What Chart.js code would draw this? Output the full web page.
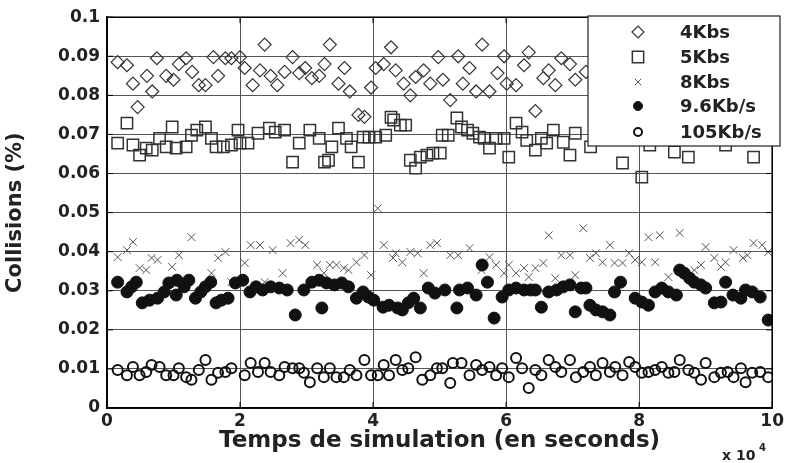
<!DOCTYPE html>
<html>
<head>
<meta charset="utf-8">
<script src="https://cdn.jsdelivr.net/npm/chart.js@4.4.1/dist/chart.umd.min.js"></script>
<style>
  html, body { margin: 0; padding: 0; background: #fff; }
  #wrap { width: 787px; height: 463px; }
</style>
</head>
<body>
<div id="wrap"><canvas id="chart" width="787" height="463"></canvas></div>
<script>
// Séries (x en unités de 10^4 s, y en %)
const labels = ["4Kbs", "5Kbs", "8Kbs", "9.6Kb/s", "105Kb/s"];
const xTicks = [0, 2, 4, 6, 8, 10];

const x4k = [0.16, 0.3, 0.39, 0.46, 0.6, 0.68, 0.75, 0.89, 1.0, 1.08, 1.19, 1.28, 1.38, 1.48, 1.6, 1.67, 1.78, 1.87, 2.0, 2.07,
  2.19, 2.3, 2.37, 2.46, 2.56, 2.67, 2.79, 2.89, 2.98, 3.08, 3.19, 3.27, 3.35, 3.48, 3.57, 3.65, 3.78, 3.87, 3.97, 4.04,
  4.16, 4.27, 4.34, 4.46, 4.56, 4.64, 4.76, 4.86, 4.98, 5.05, 5.16, 5.28, 5.35, 5.45, 5.55, 5.64, 5.75, 5.87, 5.97, 6.01,
  6.15, 6.27, 6.34, 6.44, 6.56, 6.64, 6.74, 6.83, 6.96, 7.04, 7.2, 7.35, 7.5, 7.65, 7.8, 7.95, 8.1, 8.25, 8.4, 8.55,
  8.7, 8.85, 9.0, 9.15, 9.3, 9.45, 9.6, 9.75, 9.9, 10.0];
const y4k = [0.0885, 0.0877, 0.083, 0.077, 0.085, 0.081, 0.0895, 0.085, 0.084, 0.088, 0.0895, 0.086, 0.0826, 0.0826, 0.0898, 0.085, 0.0895, 0.0895, 0.0898, 0.087,
  0.0826, 0.0864, 0.093, 0.085, 0.0826, 0.086, 0.0898, 0.0857, 0.087, 0.0844, 0.085, 0.088, 0.093, 0.083, 0.087, 0.081, 0.075, 0.0745, 0.082, 0.087,
  0.088, 0.0923, 0.0864, 0.083, 0.080, 0.0847, 0.0864, 0.083, 0.0898, 0.084, 0.0788, 0.090, 0.083, 0.087, 0.081, 0.093, 0.081, 0.0857, 0.090, 0.083,
  0.0826, 0.0877, 0.091, 0.076, 0.0844, 0.0864, 0.0826, 0.0895, 0.088, 0.084, 0.086, 0.083, 0.088, 0.085, 0.082, 0.087, 0.089, 0.084, 0.086, 0.083,
  0.088, 0.085, 0.082, 0.087, 0.089, 0.084, 0.086, 0.083, 0.088, 0.0865];

const x5k = [0.16, 0.3, 0.39, 0.49, 0.59, 0.68, 0.79, 0.89, 0.98, 1.04, 1.19, 1.27, 1.35, 1.48, 1.57, 1.64, 1.75, 1.87, 1.97, 2.0,
  2.12, 2.27, 2.44, 2.53, 2.67, 2.79, 2.89, 3.05, 3.19, 3.27, 3.33, 3.38, 3.48, 3.6, 3.67, 3.78, 3.85, 3.94, 4.04, 4.19,
  4.27, 4.31, 4.41, 4.49, 4.56, 4.64, 4.71, 4.81, 4.9, 5.01, 5.04, 5.13, 5.26, 5.33, 5.42, 5.5, 5.6, 5.67, 5.75, 5.85,
  5.97, 6.04, 6.15, 6.24, 6.31, 6.44, 6.53, 6.61, 6.71, 6.86, 6.96, 7.04, 7.27, 7.45, 7.6, 7.75, 7.9, 8.04, 8.16, 8.35,
  8.53, 8.74, 8.9, 9.1, 9.3, 9.5, 9.72, 9.85, 10.0];
const y5k = [0.0678, 0.0729, 0.0673, 0.0647, 0.0665, 0.066, 0.069, 0.0668, 0.0719, 0.0665, 0.0668, 0.0698, 0.0711, 0.0719, 0.069, 0.0668, 0.0668, 0.0673, 0.0711, 0.0678,
  0.0678, 0.0703, 0.0716, 0.0706, 0.0711, 0.0629, 0.0678, 0.0711, 0.069, 0.0629, 0.0634, 0.0668, 0.0716, 0.069, 0.0668, 0.0629, 0.0693, 0.0693, 0.0693, 0.0698,
  0.0744, 0.0737, 0.0724, 0.0724, 0.0634, 0.0614, 0.0642, 0.0647, 0.0652, 0.0652, 0.0698, 0.0698, 0.0742, 0.0719, 0.0711, 0.0703, 0.0693, 0.069, 0.0665, 0.069,
  0.069, 0.0642, 0.0729, 0.0706, 0.0685, 0.066, 0.069, 0.0678, 0.0711, 0.068, 0.0647, 0.0703, 0.0668, 0.0705, 0.0695, 0.0627, 0.0712, 0.0591, 0.0673, 0.0705,
  0.0655, 0.0642, 0.0698, 0.0712, 0.0673, 0.0702, 0.0642, 0.0695, 0.069];

const x8k = [0.16, 0.3, 0.39, 0.49, 0.59, 0.67, 0.76, 0.98, 1.08, 1.27, 1.57, 1.67, 1.78, 1.87, 2.07, 2.16, 2.3, 2.37, 2.49, 2.64,
  2.76, 2.89, 2.98, 3.16, 3.26, 3.35, 3.45, 3.56, 3.63, 3.75, 3.87, 3.97, 4.07, 4.16, 4.3, 4.34, 4.44, 4.56, 4.67, 4.76,
  4.86, 4.96, 5.16, 5.28, 5.45, 5.63, 5.75, 5.85, 5.97, 6.04, 6.15, 6.27, 6.34, 6.44, 6.56, 6.64, 6.74, 6.83, 6.96, 7.04,
  7.16, 7.26, 7.35, 7.45, 7.56, 7.63, 7.75, 7.85, 7.94, 8.04, 8.14, 8.24, 8.31, 8.44, 8.61, 8.83, 8.93, 9.0, 9.13, 9.23,
  9.3, 9.42, 9.56, 9.63, 9.72, 9.85, 9.94];
const y8k = [0.0386, 0.0404, 0.0425, 0.0358, 0.0353, 0.0384, 0.0379, 0.0361, 0.0391, 0.0437, 0.0345, 0.0384, 0.0399, 0.0322, 0.0371, 0.0417, 0.0417, 0.0322, 0.0404, 0.0345,
  0.0422, 0.043, 0.0417, 0.0366, 0.0345, 0.0366, 0.0366, 0.0358, 0.0353, 0.0373, 0.0391, 0.034, 0.0511, 0.0417, 0.0384, 0.0396, 0.0373, 0.0399, 0.0396, 0.0345,
  0.0417, 0.0422, 0.0391, 0.0391, 0.0409, 0.0353, 0.0386, 0.0366, 0.0345, 0.0366, 0.0345, 0.0358, 0.0335, 0.0358, 0.0371, 0.0442, 0.0332, 0.0391, 0.0391, 0.034,
  0.046, 0.0384, 0.0396, 0.0373, 0.0417, 0.0371, 0.0371, 0.0396, 0.0379, 0.0373, 0.0437, 0.0373, 0.0442, 0.0335, 0.0448, 0.0353, 0.0366, 0.0412, 0.0384, 0.0361,
  0.0373, 0.0404, 0.0384, 0.0391, 0.0422, 0.0417, 0.0399];

const x96k = [0.16, 0.3, 0.37, 0.44, 0.53, 0.64, 0.76, 0.86, 0.93, 1.04, 1.05, 1.16, 1.23, 1.33, 1.41, 1.48, 1.56, 1.64, 1.72, 1.82,
  1.93, 2.04, 2.15, 2.24, 2.34, 2.46, 2.59, 2.71, 2.83, 2.96, 3.08, 3.19, 3.23, 3.3, 3.42, 3.53, 3.63, 3.75, 3.85, 3.93,
  4.01, 4.15, 4.24, 4.37, 4.44, 4.53, 4.61, 4.71, 4.83, 4.93, 5.08, 5.26, 5.3, 5.42, 5.55, 5.64, 5.72, 5.82, 5.94, 6.04,
  6.15, 6.27, 6.37, 6.44, 6.53, 6.64, 6.76, 6.86, 6.96, 7.04, 7.13, 7.2, 7.26, 7.35, 7.45, 7.56, 7.63, 7.72, 7.94, 8.04,
  8.14, 8.24, 8.34, 8.44, 8.56, 8.61, 8.68, 8.76, 8.83, 8.93, 9.0, 9.13, 9.23, 9.3, 9.41, 9.53, 9.6, 9.7, 9.82, 9.94];
const y96k = [0.0322, 0.0297, 0.031, 0.0322, 0.0269, 0.0276, 0.0281, 0.0297, 0.032, 0.0289, 0.0327, 0.031, 0.0327, 0.0281, 0.0297, 0.031, 0.0322, 0.0269, 0.0276, 0.0281,
  0.032, 0.0327, 0.0297, 0.031, 0.0302, 0.031, 0.0307, 0.0302, 0.0238, 0.0302, 0.0322, 0.0327, 0.0256, 0.032, 0.0315, 0.032, 0.031, 0.0281, 0.0297, 0.0284,
  0.0276, 0.0258, 0.0263, 0.0256, 0.0251, 0.0269, 0.0281, 0.0256, 0.0307, 0.0294, 0.0302, 0.0256, 0.0302, 0.0307, 0.0289, 0.0366, 0.0322, 0.023, 0.0284, 0.0302,
  0.0307, 0.0302, 0.0302, 0.0302, 0.0258, 0.0297, 0.0302, 0.031, 0.0315, 0.0246, 0.0307, 0.0307, 0.0263, 0.0251, 0.0246, 0.0238, 0.0297, 0.0322, 0.0281, 0.0271,
  0.0263, 0.0297, 0.0307, 0.0297, 0.0289, 0.0353, 0.0345, 0.0332, 0.0322, 0.0315, 0.0307, 0.0269, 0.0271, 0.0322, 0.0289, 0.0281, 0.0302, 0.0297, 0.0284, 0.0225];

const x105k = [0.16, 0.3, 0.39, 0.49, 0.59, 0.67, 0.79, 0.89, 1.0, 1.08, 1.19, 1.27, 1.38, 1.48, 1.57, 1.67, 1.78, 1.87, 2.07, 2.16,
  2.27, 2.37, 2.46, 2.59, 2.67, 2.79, 2.89, 2.96, 3.05, 3.16, 3.26, 3.35, 3.45, 3.56, 3.65, 3.75, 3.87, 3.97, 4.07, 4.16,
  4.24, 4.34, 4.44, 4.53, 4.64, 4.74, 4.86, 4.96, 5.04, 5.16, 5.2, 5.33, 5.45, 5.55, 5.64, 5.75, 5.85, 5.94, 6.04, 6.15,
  6.24, 6.34, 6.44, 6.53, 6.64, 6.74, 6.83, 6.96, 7.05, 7.16, 7.26, 7.35, 7.45, 7.56, 7.64, 7.75, 7.85, 7.94, 8.04, 8.14,
  8.24, 8.34, 8.44, 8.53, 8.61, 8.74, 8.83, 8.93, 9.0, 9.13, 9.23, 9.33, 9.42, 9.53, 9.6, 9.7, 9.82, 9.94];
const y105k = [0.0097, 0.0084, 0.0105, 0.0084, 0.0092, 0.011, 0.0105, 0.0084, 0.0084, 0.0102, 0.0079, 0.0072, 0.0097, 0.0123, 0.0072, 0.009, 0.0092, 0.0102, 0.0084, 0.0115,
  0.0092, 0.0115, 0.0092, 0.0084, 0.0105, 0.0102, 0.0102, 0.009, 0.0066, 0.0102, 0.0079, 0.0102, 0.0079, 0.0079, 0.0097, 0.0084, 0.0123, 0.0084, 0.0084, 0.011,
  0.0084, 0.0123, 0.0097, 0.0102, 0.013, 0.0072, 0.0084, 0.0102, 0.0102, 0.0064, 0.0115, 0.0115, 0.0084, 0.011, 0.0097, 0.0105, 0.0084, 0.0102, 0.0079, 0.0128,
  0.0102, 0.0051, 0.0097, 0.0084, 0.0123, 0.0105, 0.0092, 0.0123, 0.0079, 0.0092, 0.0105, 0.0084, 0.0115, 0.0092, 0.0105, 0.0084, 0.0118, 0.0105, 0.009, 0.0092,
  0.0097, 0.0105, 0.009, 0.0092, 0.0123, 0.0097, 0.009, 0.0072, 0.0115, 0.0079, 0.009, 0.0092, 0.0079, 0.0102, 0.0066, 0.009, 0.0092, 0.0079];

const FONT = "'DejaVu Sans', Arial, sans-serif";

function pts(xs, ys) {
    return xs.map((x, i) => ({ x: x, y: ys[i] }));
}

// Style des marqueurs (façon Matlab)
const styles = [
    { pointStyle: "rectRot", radius: 6.5, borderColor: "#333", backgroundColor: "rgba(0,0,0,0)", borderWidth: 1.2, legendR: 6 },
    { pointStyle: "rect", radius: 8, borderColor: "#333", backgroundColor: "rgba(0,0,0,0)", borderWidth: 1.5, legendR: 8 },
    { pointStyle: "crossRot", radius: 5.5, borderColor: "#555", backgroundColor: "#555", borderWidth: 1, legendR: 4.5 },
    { pointStyle: "circle", radius: 6, borderColor: "#111", backgroundColor: "#111", borderWidth: 1, legendR: 4.5 },
    { pointStyle: "circle", radius: 5, borderColor: "#111", backgroundColor: "rgba(0,0,0,0)", borderWidth: 2, legendR: 4 },
];
const series = [pts(x4k, y4k), pts(x5k, y5k), pts(x8k, y8k), pts(x96k, y96k), pts(x105k, y105k)];

const datasets = series.map((data, i) => ({
    label: labels[i],
    data: data,
    showLine: false,
    order: 5 - i,
    pointStyle: styles[i].pointStyle,
    pointRadius: styles[i].radius,
    pointBorderColor: styles[i].borderColor,
    pointBackgroundColor: styles[i].backgroundColor,
    pointBorderWidth: styles[i].borderWidth,
}));

// Cadre, petites graduations, légende encadrée et "x 10^4"
const decor = {
    id: "decor",
    afterDatasetsDraw(chart) {
        const { ctx, chartArea: a, scales } = chart;
        ctx.save();
        ctx.strokeStyle = "#000";
        ctx.lineWidth = 1.5;
        ctx.strokeRect(a.left, a.top, a.right - a.left, a.bottom - a.top);
        ctx.lineWidth = 1;
        xTicks.forEach((v) => {
            const px = scales.x.getPixelForValue(v);
            ctx.beginPath();
            ctx.moveTo(px, a.bottom); ctx.lineTo(px, a.bottom - 6);
            ctx.moveTo(px, a.top); ctx.lineTo(px, a.top + 6);
            ctx.stroke();
        });
        for (let k = 0; k <= 10; k++) {
            const py = scales.y.getPixelForValue(k / 100);
            ctx.beginPath();
            ctx.moveTo(a.left, py); ctx.lineTo(a.left + 6, py);
            ctx.moveTo(a.right, py); ctx.lineTo(a.right - 6, py);
            ctx.stroke();
        }

        // légende
        const bx = 588, by = 16, bw = 192, bh = 130;
        ctx.fillStyle = "#fff";
        ctx.fillRect(bx, by, bw, bh);
        ctx.lineWidth = 1.2;
        ctx.strokeStyle = "#222";
        ctx.strokeRect(bx, by, bw, bh);
        const rows = [32, 57, 82, 106, 132];
        ctx.font = "bold 18px " + FONT;
        ctx.textBaseline = "middle";
        ctx.textAlign = "left";
        labels.forEach((lab, i) => {
            const s = styles[i];
            ctx.strokeStyle = s.borderColor;
            ctx.fillStyle = s.backgroundColor;
            ctx.lineWidth = s.borderWidth;
            Chart.helpers.drawPoint(ctx, { pointStyle: s.pointStyle, radius: s.legendR, borderWidth: s.borderWidth, rotation: 0 }, 638, rows[i]);
            ctx.fillStyle = "#222";
            ctx.fillText(lab, 680, rows[i] + 1);
        });

        // multiplicateur de l'axe x
        ctx.fillStyle = "#222";
        ctx.textBaseline = "alphabetic";
        ctx.font = "bold 14px " + FONT;
        ctx.fillText("x 10", 722, 460);
        ctx.font = "bold 10px " + FONT;
        ctx.fillText("4", 759, 451);
        ctx.restore();
    },
};

new Chart(document.getElementById("chart"), {
    type: "scatter",
    data: { datasets },
    options: {
        responsive: false,
        animation: false,
        events: [],
        layout: { padding: { top: 17, right: 5, left: 0, bottom: 0 } },
        plugins: { legend: { display: false }, tooltip: { enabled: false } },
        scales: {
            x: {
                type: "linear",
                min: 0,
                max: 10,
                afterFit: (s) => { s.height = 55; },
                afterBuildTicks: (s) => { s.ticks = xTicks.map((v) => ({ value: v })); },
                grid: { color: "#555", borderDash: [1, 3], drawTicks: false },
                border: { display: true, color: "#000", width: 1.5 },
                ticks: { color: "#222", padding: 3, font: { family: FONT, size: 17, weight: "bold" } },
                title: {
                    display: true,
                    text: "Temps de simulation (en seconds)",
                    color: "#222",
                    padding: { top: 0, bottom: 8 },
                    font: { family: FONT, size: 23, weight: "bold" },
                },
            },
            y: {
                type: "linear",
                min: 0,
                max: 0.1,
                afterFit: (s) => { s.width = 107; },
                ticks: {
                    stepSize: 0.01,
                    color: "#222",
                    padding: 7,
                    font: { family: FONT, size: 17, weight: "bold" },
                    callback: (v) => String(+v.toFixed(2)),
                },
                grid: { color: "#555", borderDash: [1, 3], drawTicks: false },
                border: { display: true, color: "#000", width: 1.5 },
                title: {
                    display: true,
                    text: "Collisions (%)",
                    color: "#222",
                    padding: { top: 3, bottom: 0 },
                    font: { family: FONT, size: 21, weight: "bold" },
                },
            },
        },
    },
    plugins: [decor],
});
</script>
</body>
</html>
